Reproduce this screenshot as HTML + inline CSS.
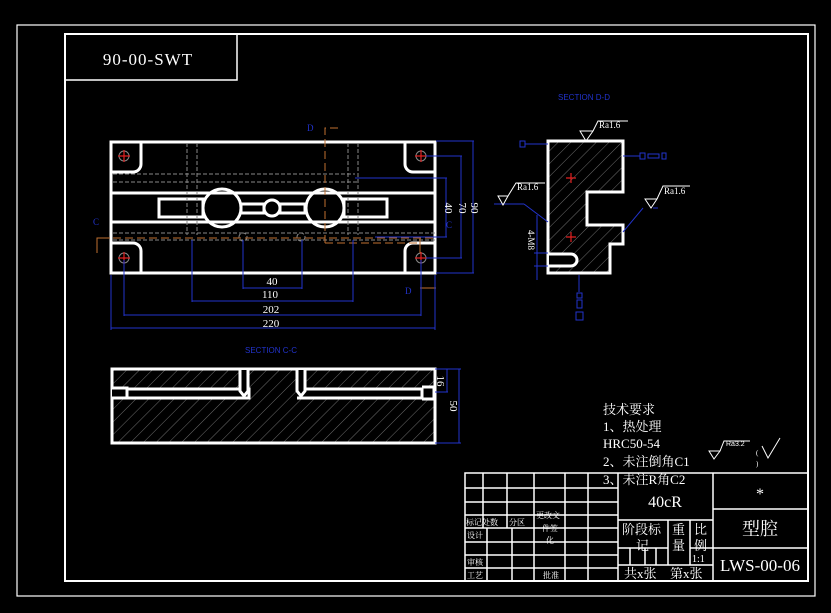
<!DOCTYPE html>
<html><head><meta charset="utf-8"><style>
html,body{margin:0;padding:0;background:#000;}
svg{display:block;}
text{font-family:"Liberation Serif","Noto Serif CJK SC","Noto Sans CJK SC",serif;fill:#fff;}
.s{font-family:"Liberation Sans","Noto Sans CJK SC",sans-serif;}
</style></head><body>
<svg width="831" height="613" viewBox="0 0 831 613" xmlns="http://www.w3.org/2000/svg">
<defs>
<pattern id="h" width="9" height="9" patternUnits="userSpaceOnUse" patternTransform="rotate(45)">
<line x1="0" y1="0" x2="0" y2="9" stroke="#9a9a9a" stroke-width="0.7"/>
</pattern>
</defs>
<rect width="831" height="613" fill="#000"/>
<rect x="17" y="25" width="798" height="571" fill="none" stroke="#fff" stroke-width="1.2"/>
<rect x="65" y="34" width="743" height="547" fill="none" stroke="#fff" stroke-width="2"/>
<rect x="65" y="34" width="172" height="46" fill="none" stroke="#fff" stroke-width="1.5"/>
<text x="148" y="65" font-size="17" text-anchor="middle" letter-spacing="1">90-00-SWT</text>

<g stroke="#fff" stroke-width="3" fill="none">
<rect x="111" y="142" width="324" height="131"/>
<path d="M111 172 H133 a8 8 0 0 0 8 -8 V142"/>
<path d="M435 172 H413 a8 8 0 0 1 -8 -8 V142"/>
<path d="M111 243 H133 a8 8 0 0 1 8 8 V273"/>
<path d="M435 243 H413 a8 8 0 0 0 -8 8 V273"/>
<line x1="111" y1="193" x2="435" y2="193"/>
<line x1="111" y1="222" x2="435" y2="222"/>
<rect x="159" y="199" width="44" height="18"/>
<rect x="344" y="199" width="43" height="18"/>
<circle cx="222" cy="208" r="19"/>
<circle cx="325" cy="208" r="19"/>
<circle cx="272" cy="208" r="8"/>
<rect x="241" y="204" width="23" height="9"/>
<rect x="280" y="204" width="25" height="9"/>
</g>
<g stroke="#888" stroke-width="1" fill="none" stroke-dasharray="4,2">
<line x1="113" y1="174" x2="355" y2="174"/>
<line x1="113" y1="182" x2="357" y2="182"/>
<line x1="113" y1="233" x2="435" y2="233"/>
<line x1="113" y1="240" x2="435" y2="240"/>
<line x1="187" y1="143" x2="187" y2="235"/>
<line x1="197" y1="143" x2="197" y2="235"/>
<line x1="348" y1="143" x2="348" y2="235"/>
<line x1="358" y1="143" x2="358" y2="235"/>
<circle cx="243" cy="237" r="4"/>
<circle cx="301" cy="237" r="4"/>
</g>
<g stroke="#888" fill="none"><circle cx="124" cy="156" r="5"/><circle cx="421" cy="156" r="5"/><circle cx="124" cy="258" r="5"/><circle cx="421" cy="258" r="5"/></g>
<g stroke="#e02020" stroke-width="1.2"><path d="M118 156h12M124 150v12M415 156h12M421 150v12M118 258h12M124 252v12M415 258h12M421 252v12"/></g>
<g stroke="#c07030" stroke-width="1" fill="none">
<path d="M97 253 V238 H110" /><path d="M113 238 H435" stroke-dasharray="8,4"/>
<path d="M338 128 H325 V243" stroke-dasharray="8,4"/>
<path d="M325 243 H420" stroke-dasharray="8,4"/>
<path d="M420 238 V253"/><path d="M420 288 H436"/>
</g>
<g font-size="9" class="s"><text x="307" y="131" style="fill:#2233cc">D</text><text x="93" y="225" style="fill:#2233cc">C</text><text x="405" y="294" style="fill:#2233cc">D</text><text x="446" y="228" style="fill:#2233cc">C</text></g>
<g stroke="#2233cc" stroke-width="1" fill="none">
<line x1="243" y1="240" x2="243" y2="289"/><line x1="302" y1="240" x2="302" y2="289"/><line x1="243" y1="288" x2="302" y2="288"/>
<line x1="192" y1="240" x2="192" y2="302"/><line x1="353" y1="240" x2="353" y2="302"/><line x1="192" y1="301" x2="353" y2="301"/>
<line x1="124" y1="260" x2="124" y2="316"/><line x1="421" y1="260" x2="421" y2="316"/><line x1="124" y1="315" x2="421" y2="315"/>
<line x1="111" y1="275" x2="111" y2="330"/><line x1="435" y1="275" x2="435" y2="330"/><line x1="111" y1="328" x2="435" y2="328"/>
<line x1="355" y1="178" x2="447" y2="178"/><line x1="375" y1="237" x2="447" y2="237"/><line x1="446" y1="178" x2="446" y2="237"/>
<line x1="426" y1="156" x2="462" y2="156"/><line x1="426" y1="258" x2="462" y2="258"/><line x1="461" y1="156" x2="461" y2="258"/>
<line x1="436" y1="141" x2="474" y2="141"/><line x1="436" y1="273" x2="474" y2="273"/><line x1="473" y1="141" x2="473" y2="273"/>
</g>
<g font-size="11" text-anchor="middle" class="s">
<text x="272" y="285">40</text><text x="270" y="298">110</text><text x="271" y="313">202</text><text x="271" y="327">220</text>
<text transform="translate(445,208) rotate(90)">40</text>
<text transform="translate(459,208) rotate(90)">70</text>
<text transform="translate(471,208) rotate(90)">90</text>
</g>

<text x="558" y="100" font-size="8" class="s" style="fill:#2233cc">SECTION D-D</text>
<path d="M548 141 H623 V192 H587 V225 H623 V244 H610 V273 H548 Z" fill="url(#h)" stroke="#fff" stroke-width="3"/>
<path d="M549 254 H571 a6 6 0 0 1 0 12 H549" fill="#000" stroke="#fff" stroke-width="3"/>
<g stroke="#e02020" stroke-width="1.2"><path d="M566 178h10M571 173v10M566 237h10M571 232v10"/></g>
<g stroke="#2233cc" stroke-width="1" fill="none">
<rect x="520" y="141" width="5" height="6"/><line x1="525" y1="144" x2="548" y2="144"/>
<line x1="623" y1="156" x2="640" y2="156"/><rect x="640" y="153" width="5" height="6"/><rect x="648" y="154" width="11" height="4"/><rect x="662" y="153" width="4" height="6"/>
<line x1="579" y1="275" x2="579" y2="292"/><rect x="577" y="293" width="5" height="5"/><rect x="577" y="300" width="5" height="8"/><rect x="576" y="312" width="7" height="8"/>
<line x1="537" y1="215" x2="537" y2="280"/><line x1="534" y1="253" x2="548" y2="253"/><line x1="534" y1="266" x2="548" y2="266"/>
<line x1="494" y1="204" x2="524" y2="204"/><line x1="524" y1="204" x2="548" y2="222"/>
<line x1="653" y1="208" x2="658" y2="208"/><line x1="643" y1="208" x2="623" y2="232"/>
</g>
<g stroke="#fff" stroke-width="1" fill="none">
<path d="M580 131 L586 141 L593 131 Z M593 131 L598 121 H628"/>
<path d="M498 196 L503 205 L508 196 Z M508 196 L516 183 H545"/>
<path d="M645 199 L651 208 L657 199 Z M657 199 L663 186 H690"/>
</g>
<g font-size="9" class="s"><text x="599" y="128">Ra1.6</text><text x="517" y="190">Ra1.6</text><text x="664" y="194">Ra1.6</text>
<text transform="translate(528,230) rotate(90)" font-size="9">4-M8</text></g>

<text x="245" y="353" font-size="8" class="s" style="fill:#2233cc">SECTION C-C</text>
<rect x="112" y="369" width="323" height="74" fill="url(#h)" stroke="#fff" stroke-width="3"/>
<path d="M112 388 H127 V398 H112 M127 389 H249 V398 H127 M297 389 H422 V398 H297 M422 387 H434 V399 H422" fill="#000" stroke="#fff" stroke-width="3"/>
<path d="M240 370 V391 l4 5 l4 -5 V370 M297 370 V391 l4 5 l4 -5 V370" fill="#000" stroke="#fff" stroke-width="3"/>
<g stroke="#2233cc" fill="none"><line x1="435" y1="369" x2="461" y2="369"/><line x1="435" y1="392" x2="448" y2="392"/><line x1="447" y1="369" x2="447" y2="392"/><line x1="435" y1="443" x2="461" y2="443"/><line x1="459" y1="369" x2="459" y2="443"/></g>
<g font-size="11" class="s" text-anchor="middle"><text transform="translate(437,381) rotate(90)">16</text><text transform="translate(450,406) rotate(90)">50</text></g>

<g font-size="13">
<text x="603" y="414">技术要求</text>
<text x="603" y="431">1、热处理</text>
<text x="603" y="448">HRC50-54</text>
<text x="603" y="466">2、未注倒角C1</text>
<text x="603" y="484">3、未注R角C2</text>
</g>
<g stroke="#fff" fill="none" stroke-width="1"><path d="M709 451 L714 459 L720 451 Z M720 451 L724 441 H750"/><path d="M762 446 L768 458 L780 438"/></g>
<text x="726" y="446" font-size="7" class="s">Ra3.2</text>
<text x="756" y="455" font-size="7">(</text><text x="756" y="466" font-size="7">)</text>

<g stroke="#fff" stroke-width="1.5" fill="none">
<rect x="465" y="473" width="343" height="108"/>
<line x1="618" y1="473" x2="618" y2="581"/><line x1="713" y1="473" x2="713" y2="581"/>
<line x1="713" y1="509" x2="808" y2="509"/><line x1="713" y1="548" x2="808" y2="548"/>
<line x1="618" y1="520" x2="713" y2="520"/><line x1="618" y1="565" x2="713" y2="565"/>
<line x1="668" y1="520" x2="668" y2="565"/><line x1="690" y1="520" x2="690" y2="565"/>
<line x1="618" y1="548" x2="668" y2="548"/><line x1="690" y1="548" x2="713" y2="548"/>
<line x1="630" y1="548" x2="630" y2="565"/><line x1="645" y1="548" x2="645" y2="565"/><line x1="656" y1="548" x2="656" y2="565"/>
<line x1="465" y1="488" x2="618" y2="488"/><line x1="465" y1="502" x2="618" y2="502"/><line x1="465" y1="515" x2="618" y2="515"/>
<line x1="465" y1="528" x2="618" y2="528"/><line x1="465" y1="542" x2="618" y2="542"/><line x1="465" y1="555" x2="618" y2="555"/><line x1="465" y1="568" x2="618" y2="568"/>
<line x1="483" y1="473" x2="483" y2="528"/><line x1="507" y1="473" x2="507" y2="528"/><line x1="534" y1="473" x2="534" y2="581"/><line x1="565" y1="473" x2="565" y2="581"/><line x1="588" y1="473" x2="588" y2="581"/>
<line x1="487" y1="528" x2="487" y2="581"/><line x1="512" y1="528" x2="512" y2="581"/>
</g>
<g font-size="8" class="s">
<text x="466" y="525">标记处数</text><text x="509" y="525">分区</text><text x="536" y="518">更改文</text><text x="542" y="531">件签</text><text x="546" y="543">化</text>
<text x="467" y="538">设计</text><text x="467" y="565">审核</text><text x="467" y="578">工艺</text><text x="543" y="578">批准</text>
</g>
<text x="665" y="507" font-size="16" text-anchor="middle">40cR</text>
<g font-size="13"><text x="622" y="534">阶段标</text><text x="636" y="550">记</text><text x="672" y="534">重</text><text x="672" y="550">量</text><text x="694" y="534">比</text><text x="694" y="550">例</text>
<text x="692" y="562" font-size="10">1:1</text><text x="624" y="578">共x张</text><text x="670" y="578">第x张</text></g>
<text x="760" y="499" font-size="16" text-anchor="middle">*</text>
<text x="760" y="535" font-size="18" text-anchor="middle">型腔</text>
<text x="760" y="571" font-size="17" text-anchor="middle">LWS-00-06</text>
</svg>
</body></html>
